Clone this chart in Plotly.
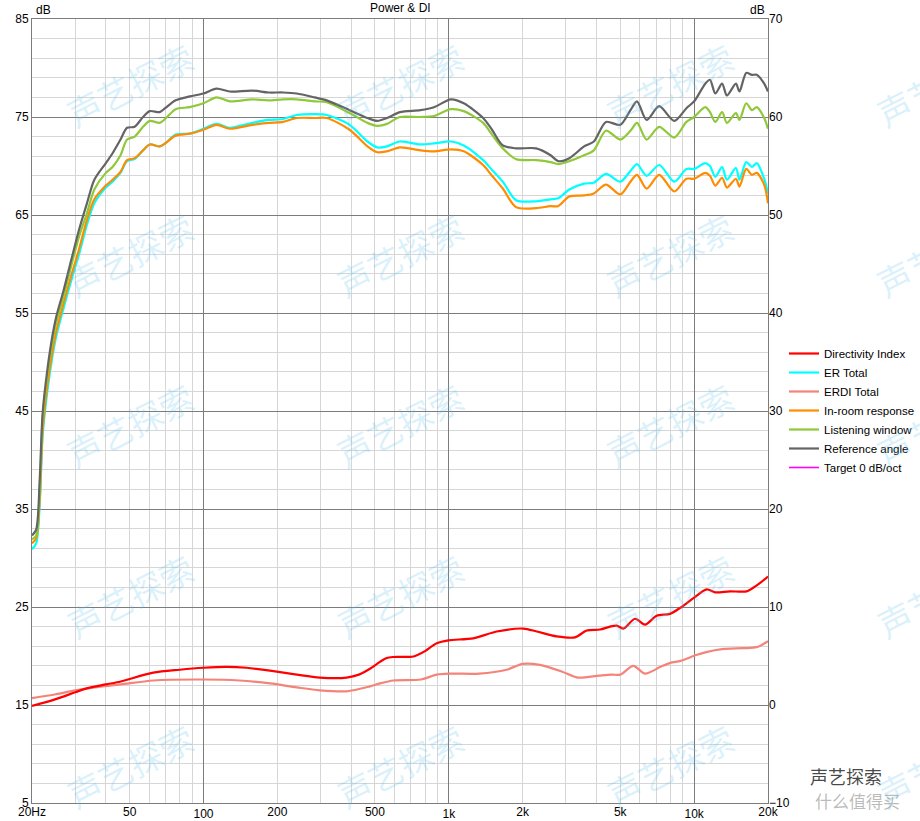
import math
import plotly.graph_objects as go

# ---------------- data ----------------
freq_main = [20, 20.8, 21.5, 22.1, 23.1, 24.2, 25.1, 26.9, 28.9, 31.1, 33.5, 35.9, 40, 42.6,
             45.9, 48.8, 52.4, 56.7, 60.4, 66.3, 69.8, 77, 87.9, 100, 113, 128, 158, 184,
             211, 240, 284, 318, 394, 466, 511, 560, 632, 766, 870, 1020, 1150, 1380, 1500,
             1660, 1880, 2270, 2600, 2790, 3100, 3560, 3900, 4370, 5000, 5500, 5850, 6400,
             7200, 8300, 9300, 10000, 11100, 11600, 12200, 13000, 13600, 14800, 15300,
             16300, 17200, 18000, 19300, 20000]

reference_angle = [32.3, 32.9, 38.0, 44.8, 49.2, 52.6, 54.6, 57.3, 60.4, 63.5, 66.2, 68.6, 70.3, 71.3,
                   72.7, 73.9, 74.0, 75.0, 75.6, 75.5, 75.9, 76.7, 77.1, 77.4, 77.9, 77.6, 77.7, 77.5,
                   77.5, 77.4, 77.0, 76.7, 75.7, 74.9, 74.6, 74.9, 75.5, 75.7, 76.0, 76.8, 76.4, 74.9, 73.7,
                   72.1, 71.8, 71.8, 71.1, 70.5, 70.8, 72.0, 72.5, 74.5, 74.2, 75.7, 76.6, 74.7,
                   76.1, 74.6, 75.9, 76.6, 78.4, 78.8, 77.4, 78.4, 77.2, 78.4, 77.6,
                   79.5, 79.3, 79.3, 78.4, 77.6]

listening_window = [31.9, 32.3, 37.0, 44.2, 48.6, 52.0, 54.0, 56.7, 59.8, 62.8, 65.2, 67.6, 69.3, 69.9,
                    71.1, 72.7, 73.0, 74.0, 74.6, 74.4, 74.8, 75.8, 76.0, 76.4, 77.0, 76.6, 76.8, 76.7,
                    76.8, 76.8, 76.6, 76.5, 75.4, 74.4, 74.1, 74.3, 75.0, 75.0, 75.1, 75.8, 75.6, 74.4, 73.2,
                    71.8, 70.7, 70.6, 70.4, 70.2, 70.5, 71.1, 71.6, 73.6, 72.7, 73.6, 74.4, 72.7,
                    74.0, 72.9, 74.5, 75.0, 76.0, 75.5, 74.5, 75.5, 74.4, 75.4, 74.7,
                    76.4, 75.7, 76.0, 74.9, 73.8]

er_total = [30.9, 31.5, 35.5, 42.5, 47.0, 50.5, 52.6, 55.5, 58.3, 61.0, 64.0, 66.2, 67.8, 68.4,
            69.3, 70.5, 70.7, 71.6, 72.2, 72.0, 72.3, 73.2, 73.3, 73.8, 74.3, 73.9, 74.4, 74.7,
            74.8, 75.2, 75.3, 75.2, 74.2, 72.5, 71.9, 72.0, 72.5, 72.2, 72.3, 72.5, 72.1, 70.6, 69.6,
            68.4, 66.5, 66.4, 66.6, 66.7, 67.6, 68.2, 68.3, 69.2, 68.4, 69.5, 70.2, 69.0,
            70.1, 68.4, 69.7, 69.7, 70.3, 70.0, 68.9, 69.9, 68.6, 69.8, 68.6,
            70.4, 69.9, 70.3, 68.7, 67.2]

in_room_response = [31.5, 32.0, 36.0, 43.0, 47.6, 51.0, 53.1, 56.0, 58.8, 61.5, 64.5, 66.6, 68.0, 68.6,
                    69.4, 70.6, 70.8, 71.6, 72.2, 72.0, 72.3, 73.1, 73.3, 73.7, 74.2, 73.8, 74.2, 74.4,
                    74.5, 74.9, 74.9, 74.9, 73.7, 72.0, 71.4, 71.5, 71.9, 71.6, 71.5, 71.7, 71.5, 70.1, 69.0,
                    67.7, 65.8, 65.7, 65.9, 65.9, 66.9, 67.0, 67.2, 68.1, 67.1, 68.4, 69.1, 67.7,
                    69.1, 67.4, 68.7, 68.7, 69.3, 69.0, 68.0, 68.8, 67.8, 68.7, 67.9,
                    69.7, 69.1, 69.3, 68.1, 66.2]

freq_di = [20, 25, 30, 33.4, 40, 46, 62.4, 80, 100, 124, 150, 187, 240, 298, 383, 430, 477,
           524, 558, 594, 717, 787, 893, 995, 1258, 1567, 2012, 2281, 2752, 3269, 3649, 4135,
           4540, 4834, 5144, 5741, 6306, 7034, 7973, 8761, 9925, 11252, 12162, 13996, 16370,
           17989, 20000]
directivity_index = [-0.1, 0.6, 1.3, 1.7, 2.1, 2.4, 3.3, 3.6, 3.8, 3.9, 3.8, 3.5, 3.1, 2.8, 2.8, 3.1, 3.7,
                     4.4, 4.8, 4.9, 4.95, 5.4, 6.3, 6.6, 6.8, 7.5, 7.8, 7.5, 7.0, 6.9, 7.6, 7.7,
                     8.0, 8.1, 7.8, 8.8, 8.2, 9.1, 9.3, 9.9, 10.9, 11.8, 11.5, 11.6, 11.6,
                     12.2, 13.1]

freq_erdi = [20, 25, 30, 36, 46, 62.4, 100, 140, 187, 240, 298, 383, 477, 524, 594, 770, 893,
             1020, 1330, 1720, 2000, 2350, 2900, 3350, 4100, 4600, 5000, 5650, 6300, 7300, 8000,
             8800, 10200, 11200, 13000, 15800, 18000, 20000]
erdi_total = [0.7, 1.1, 1.5, 1.8, 2.1, 2.5, 2.6, 2.5, 2.2, 1.8, 1.5, 1.4, 1.9, 2.2, 2.5, 2.6, 3.1,
              3.2, 3.2, 3.6, 4.2, 4.1, 3.4, 2.8, 3.0, 3.1, 3.1, 4.0, 3.2, 3.9, 4.3,
              4.5, 5.1, 5.4, 5.7, 5.8, 5.9, 6.5]

target_label = "Target 0 dB/oct"
target_freq = [20, 20000]

x_label_ticks = [20, 50, 200, 500, 2000, 5000, 20000]
x_label_text = ["20Hz", "50", "200", "500", "2k", "5k", "20k"]
x_major_ticks = [100, 1000, 10000]
x_major_text = ["100", "1k", "10k"]
x_minor_ticks = [30, 40, 50, 60, 70, 80, 90, 200, 300, 400, 500, 600, 700, 800, 900,
                 2000, 3000, 4000, 5000, 6000, 7000, 8000, 9000]
y_left_ticks = [5, 15, 25, 35, 45, 55, 65, 75, 85]
y_right_ticks = [-10, 0, 10, 20, 30, 40, 50, 60, 70]

# ---------------- layout geometry ----------------
W, H = 920, 821
L, R, T, B = 32, 768, 19, 803
FONT = "Liberation Sans, Arial, sans-serif"


def px(x):
    return (x - L) / (R - L)


def py(y):
    return (B - y) / (B - T)


fig = go.Figure()

main_style = dict(mode="lines", line_shape="spline", xaxis="x", yaxis="y")
fig.add_trace(go.Scatter(x=freq_main, y=er_total, name="ER Total", legendrank=2,
                         line=dict(color="#00FFFF", width=2.2, smoothing=0.8), **main_style))
fig.add_trace(go.Scatter(x=freq_main, y=in_room_response, name="In-room response", legendrank=4,
                         line=dict(color="#FF8C00", width=2.2, smoothing=0.8), **main_style))
fig.add_trace(go.Scatter(x=freq_main, y=listening_window, name="Listening window", legendrank=5,
                         line=dict(color="#8FC93A", width=2.2, smoothing=0.8), **main_style))
fig.add_trace(go.Scatter(x=freq_main, y=reference_angle, name="Reference angle", legendrank=6,
                         line=dict(color="#646464", width=2.2, smoothing=0.8), **main_style))

di_style = dict(mode="lines", line_shape="spline", xaxis="x", yaxis="y2")
fig.add_trace(go.Scatter(x=freq_erdi, y=erdi_total, name="ERDI Total", legendrank=3,
                         line=dict(color="#F4847A", width=2.2, smoothing=0.8), **di_style))
fig.add_trace(go.Scatter(x=freq_di, y=directivity_index, name="Directivity Index", legendrank=1,
                         line=dict(color="#FF0000", width=2.2, smoothing=0.8), **di_style))
# target curve lies outside the visible range; kept for the legend (and drives the label axis)
fig.add_trace(go.Scatter(x=target_freq, y=[None, None], name=target_label, legendrank=7,
                         mode="lines", line=dict(color="#FF00FF", width=1.6), xaxis="x2", yaxis="y"))

major_grid = "#7C7C7C"
minor_grid = "#D6D6D6"

fig.update_layout(
    width=W, height=H,
    margin=dict(l=L, r=W - R, t=T, b=H - B, pad=0, autoexpand=False),
    paper_bgcolor="white", plot_bgcolor="white",
    font=dict(family=FONT, size=12, color="black"),
    showlegend=True,
    legend=dict(x=px(784), y=py(339), xanchor="left", yanchor="top",
                bgcolor="rgba(0,0,0,0)", borderwidth=0,
                font=dict(family=FONT, size=11.5, color="#000000"),
                itemwidth=30, tracegroupgap=0),
    xaxis=dict(type="log", range=[math.log10(20), math.log10(20000)],
               tickmode="array", tickvals=x_major_ticks, ticktext=x_major_text,
               showgrid=True, gridcolor=major_grid, gridwidth=1,
               minor=dict(tickmode="array", tickvals=x_minor_ticks, showgrid=True,
                          gridcolor=minor_grid, gridwidth=1, ticks=""),
               showline=True, linecolor=major_grid, linewidth=1, mirror=True,
               ticks="", zeroline=False, tickfont=dict(size=12)),
    xaxis2=dict(type="log", range=[math.log10(20), math.log10(20000)], overlaying="x",
                anchor="y", side="bottom", tickmode="array", tickvals=x_label_ticks,
                ticktext=x_label_text, showgrid=False, showline=False, ticks="",
                zeroline=False, tickfont=dict(size=12)),
    yaxis=dict(range=[5, 85], tickmode="array", tickvals=y_left_ticks,
               showgrid=True, gridcolor=major_grid, gridwidth=1,
               minor=dict(dtick=2, tick0=5, showgrid=True, gridcolor=minor_grid,
                          gridwidth=1, ticks=""),
               showline=True, linecolor=major_grid, linewidth=1, mirror=True,
               ticks="", zeroline=False, tickfont=dict(size=12)),
    yaxis2=dict(range=[-10, 70], overlaying="y", side="right", anchor="x",
                tickmode="array", tickvals=y_right_ticks, showgrid=False,
                showline=False, ticks="", zeroline=False, tickfont=dict(size=12)),
)

annotations = [
    dict(text="Power & DI", x=px(400), y=py(8), xanchor="center", yanchor="middle",
         font=dict(size=12)),
    dict(text="dB", x=px(34), y=py(10), xanchor="left", yanchor="middle", font=dict(size=12)),
    dict(text="dB", x=px(767), y=py(10), xanchor="right", yanchor="middle", font=dict(size=12)),
]

# watermark
wm_cols = [130, 400, 670, 940]
wm_rows = [85, 255, 425, 595, 765]
for cy in wm_rows:
    for cx in wm_cols:
        annotations.append(dict(text="声艺探索", x=px(cx), y=py(cy), xanchor="center",
                                yanchor="middle", textangle=-27,
                                font=dict(family="Noto Sans CJK SC", size=34,
                                          color="rgba(90,195,240,0.22)")))
annotations.append(dict(text="声艺探索", x=px(846), y=py(776), xanchor="center", yanchor="middle",
                        font=dict(family="Noto Sans CJK SC", size=18, color="rgba(40,40,40,0.85)")))
annotations.append(dict(text="什么值得买", x=px(857), y=py(800), xanchor="center", yanchor="middle",
                        font=dict(family="Noto Sans CJK SC", size=17, color="rgba(120,120,120,0.5)")))

for a in annotations:
    a.update(xref="paper", yref="paper", showarrow=False)
fig.update_layout(annotations=annotations)

fig.write_html("out.html")
